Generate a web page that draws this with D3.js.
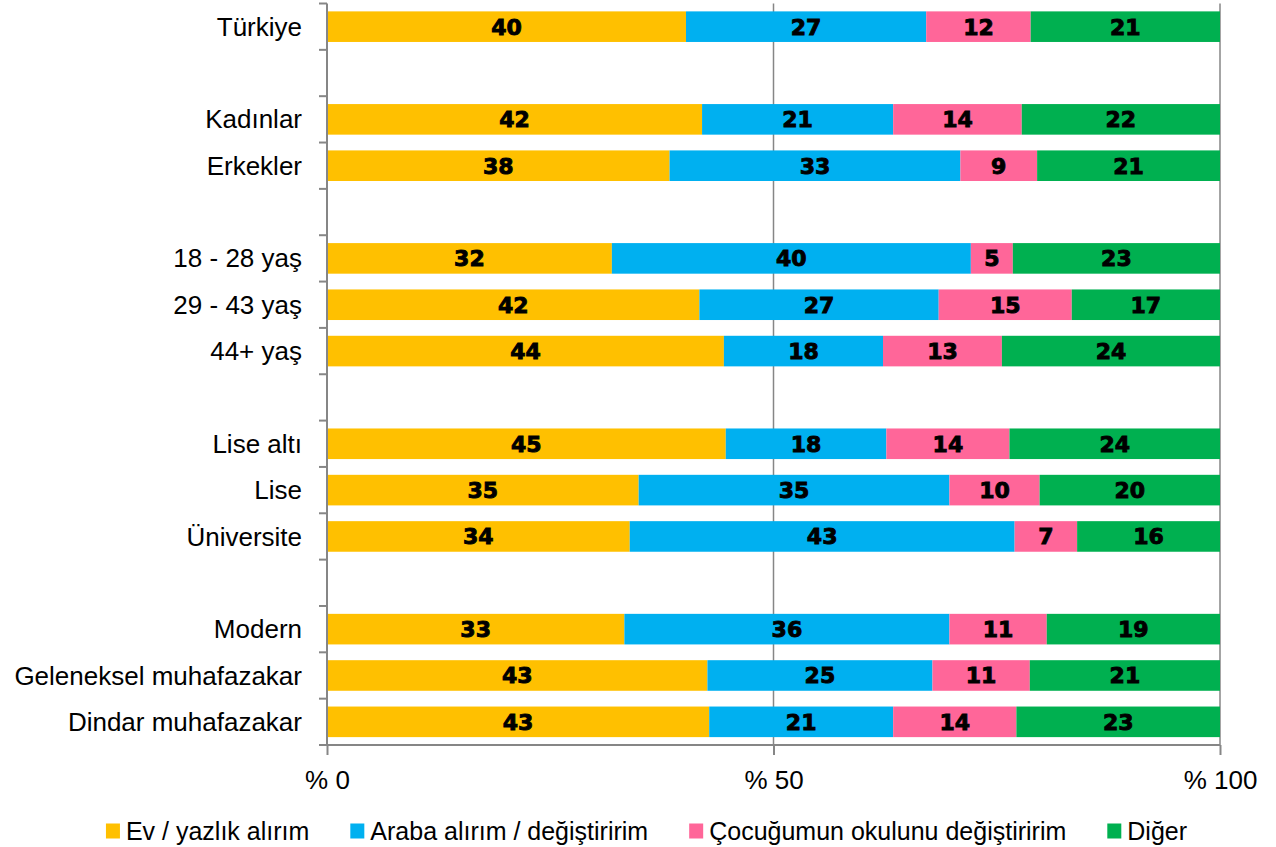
<!DOCTYPE html>
<html lang="tr">
	<head>
		<meta charset="utf-8">
		<title>Harcama tercihleri</title>
		<script type="text/javascript" src="https://d3js.org/d3.v7.min.js"></script>
		<style type="text/css">
			body {
				background-color: white;
				font-family: "Liberation Sans", Arial, sans-serif;
				margin: 0;
			}
			svg {
				display: block;
				background-color: white;
			}
		</style>
	</head>
	<body>
		<script type="text/javascript">
			//Rows ("" = empty gap row between groups)
			var categories = ["Türkiye", "", "Kadınlar", "Erkekler", "", "18 - 28 yaş", "29 - 43 yaş", "44+ yaş", "",
				"Lise altı", "Lise", "Üniversite", "", "Modern", "Geleneksel muhafazakar", "Dindar muhafazakar"];

			//Series values (percent)
			var evYazlik = [40.2, null, 42.0, 38.4, null, 31.9, 41.7, 44.4, null, 44.7, 34.9, 33.9, null, 33.3, 42.6, 42.8];
			var araba    = [26.9, null, 21.4, 32.6, null, 40.2, 26.8, 17.8, null, 18.0, 34.8, 43.1, null, 36.4, 25.2, 20.6];
			var okul     = [11.7, null, 14.4,  8.6, null,  4.7, 14.9, 13.3, null, 13.8, 10.1,  7.0, null, 10.9, 10.9, 13.8];
			var diger    = [21.2, null, 22.2, 20.5, null, 23.2, 16.6, 24.4, null, 23.6, 20.2, 16.0, null, 19.4, 21.3, 22.8];

			var seriesNames = ["Ev / yazlık alırım", "Araba alırım / değiştiririm", "Çocuğumun okulunu değiştiririm", "Diğer"];
			var seriesColors = ["#FFC000", "#00B0F0", "#FF6699", "#00B050"];
			var tickValues = [0, 50, 100];
			var tickLabels = ["% 0", "% 50", "% 100"];

			var w = 1276;
			var h = 847;
			var plotLeft = 327, plotRight = 1220, plotTop = 3.5, plotBottom = 745;
			var axisColor = "#868686";

			//build a table for d3.stack
			var keys = ["ev", "araba", "okul", "diger"];
			var cols = [evYazlik, araba, okul, diger];
			var table = categories.map(function(c, i) {
				var row = { id: "r" + i, name: c, gap: c === "" };
				keys.forEach(function(k, j) { row[k] = cols[j][i] || 0; });
				return row;
			});
			var bars = table.filter(function(d) { return !d.gap; });

			var stack = d3.stack().keys(keys).offset(d3.stackOffsetExpand);
			var stacked = stack(bars);

			var x = d3.scaleLinear()
				.domain([0, 100])
				.range([plotLeft, plotRight]);

			var y = d3.scaleBand()
				.domain(table.map(function(d) { return d.id; }))
				.range([plotTop, plotBottom])
				.paddingInner(0.34)
				.paddingOuter(0.17);

			var svg = d3.select("body")
				.append("svg")
				.attr("width", w)
				.attr("height", h);

			//vertical gridlines at 50 and 100 (behind bars)
			svg.append("g")
				.selectAll("line")
				.data(tickValues.slice(1))
				.enter().append("line")
				.attr("x1", function(d) { return x(d); })
				.attr("x2", function(d) { return x(d); })
				.attr("y1", plotTop)
				.attr("y2", plotBottom)
				.attr("stroke", axisColor)
				.attr("stroke-width", 1.5);

			//stacked bars
			var layer = svg.append("g")
				.selectAll("g")
				.data(stacked)
				.enter().append("g")
				.attr("fill", function(d, i) { return seriesColors[i]; });

			layer.selectAll("rect")
				.data(function(d) { return d; })
				.enter().append("rect")
				.attr("x", function(d) { return x(d[0] * 100); })
				.attr("width", function(d) { return x(d[1] * 100) - x(d[0] * 100); })
				.attr("y", function(d) { return y(d.data.id); })
				.attr("height", y.bandwidth());

			//value labels (heavy)
			layer.selectAll("text")
				.data(function(d) { return d.map(function(p) { p.key = d.key; return p; }); })
				.enter().append("text")
				.attr("x", function(d) { return x((d[0] + d[1]) / 2 * 100); })
				.attr("y", function(d) { return y(d.data.id) + y.bandwidth() / 2; })
				.attr("dy", "0.36em")
				.attr("text-anchor", "middle")
				.attr("fill", "black")
				.attr("stroke", "black")
				.attr("stroke-width", 0.9)
				.style("font-family", "'DejaVu Sans', sans-serif")
				.style("font-weight", "bold")
				.style("font-size", "22px")
				.text(function(d) { return Math.round(d.data[d.key]); });

			//y axis line + ticks between rows
			var yAxis = svg.append("g").attr("stroke", axisColor).attr("stroke-width", 2);
			yAxis.append("line")
				.attr("x1", plotLeft).attr("x2", plotLeft)
				.attr("y1", plotTop).attr("y2", plotBottom);
			var bounds = d3.range(table.length + 1).map(function(i) { return plotTop + i * y.step(); });
			yAxis.selectAll("line.tick")
				.data(bounds)
				.enter().append("line")
				.attr("class", "tick")
				.attr("x1", plotLeft - 8).attr("x2", plotLeft)
				.attr("y1", function(d) { return d; })
				.attr("y2", function(d) { return d; });

			//category labels
			svg.append("g")
				.selectAll("text")
				.data(bars)
				.enter().append("text")
				.attr("x", 302)
				.attr("y", function(d) { return y(d.id) + y.bandwidth() / 2; })
				.attr("dy", "0.35em")
				.attr("text-anchor", "end")
				.style("font-size", "26px")
				.attr("fill", "black")
				.text(function(d) { return d.name; });

			//x axis
			var xAxis = d3.axisBottom(x)
				.tickValues(tickValues)
				.tickSize(10)
				.tickFormat(function(d, i) { return tickLabels[i]; });
			var gx = svg.append("g")
				.attr("transform", "translate(0," + plotBottom + ")")
				.call(xAxis);
			gx.select(".domain").remove();
			gx.append("line")
				.attr("x1", plotLeft - 8).attr("x2", plotRight)
				.attr("stroke", axisColor).attr("stroke-width", 2);
			gx.selectAll(".tick line").attr("stroke", axisColor).attr("stroke-width", 2);
			gx.selectAll(".tick text")
				.attr("y", 26)
				.attr("dy", "0.71em")
				.attr("fill", "black")
				.style("font-family", "'Liberation Sans', Arial, sans-serif")
				.style("font-size", "26px");

			//legend
			var legend = svg.append("g").attr("transform", "translate(0,831)");
			var items = legend.selectAll("g")
				.data(seriesNames)
				.enter().append("g");
			items.append("rect")
				.attr("width", 14)
				.attr("height", 15)
				.attr("y", -7.5)
				.attr("fill", function(d, i) { return seriesColors[i]; });
			items.append("text")
				.attr("x", 20)
				.attr("dy", "0.35em")
				.style("font-size", "25px")
				.attr("fill", "black")
				.text(function(d) { return d; });
			var gap = 41, pos = 0, offsets = [];
			items.each(function() {
				offsets.push(pos);
				pos += 20 + d3.select(this).select("text").node().getComputedTextLength() + gap;
			});
			var total = pos - gap;
			var start = 646.5 - total / 2;
			items.attr("transform", function(d, i) { return "translate(" + (start + offsets[i]) + ",0)"; });
		</script>
	</body>
</html>
